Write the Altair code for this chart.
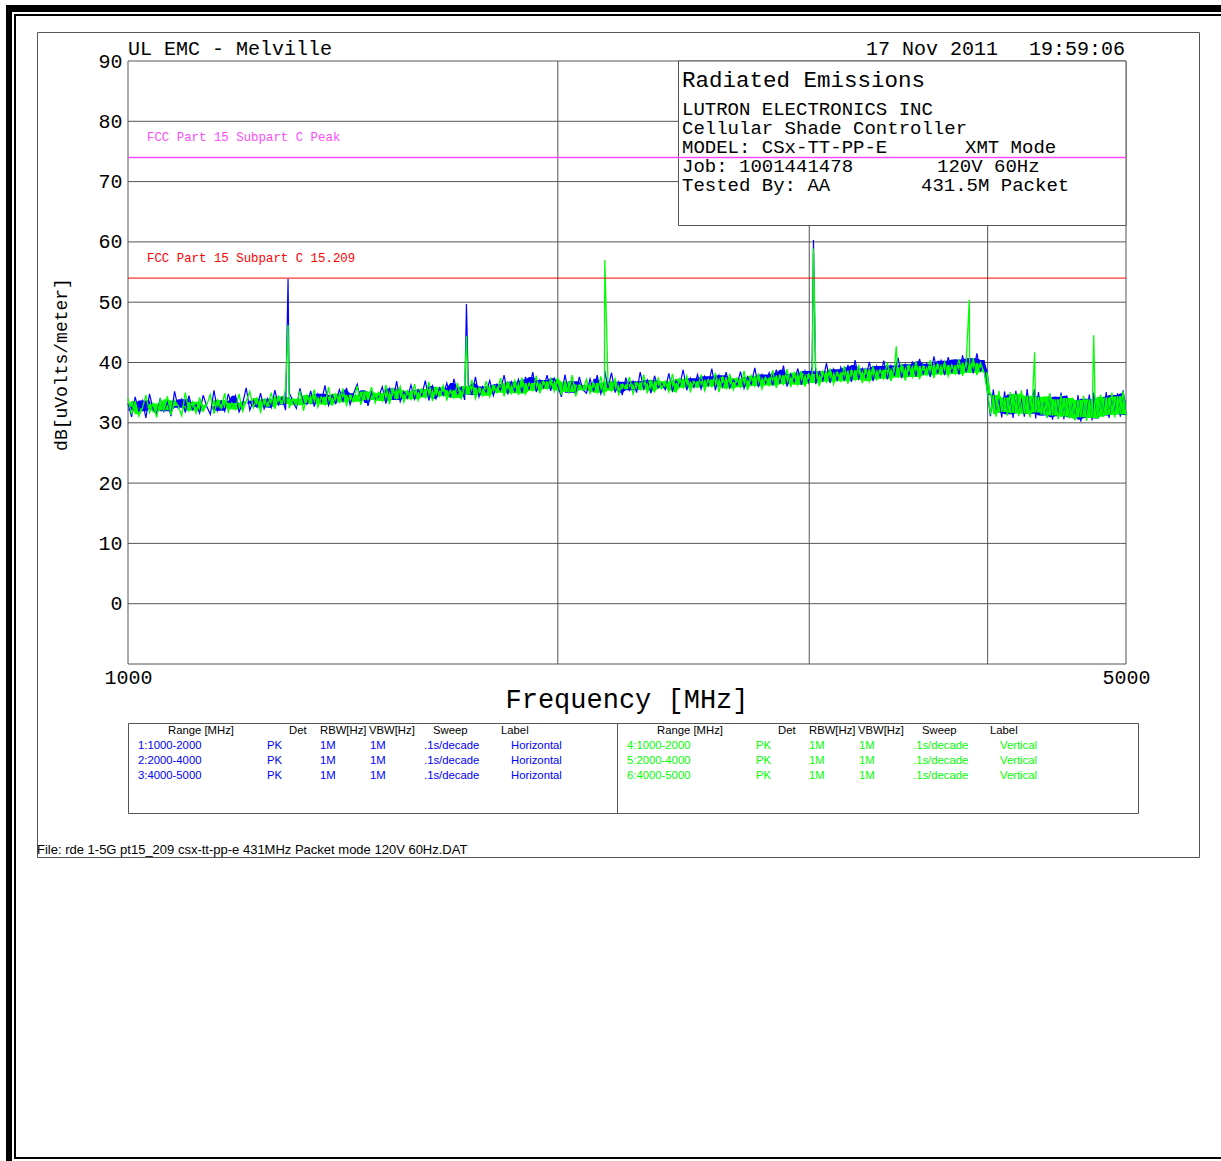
import altair as alt
import numpy as np
import pandas as pd

# ---------------------------------------------------------------- data
# Peak-detector sweeps, dBuV/m, one list per polarisation and sub-range
horiz_1000_2000 = [
    33.2, 31.0, 34.3, 31.9, 33.7, 30.8, 34.8, 32.3, 31.5, 34.1,
    31.9, 33.5, 31.1, 35.2, 32.5, 33.9, 31.7, 34.5, 32.2, 33.0,
    31.6, 34.6, 32.7, 31.4, 35.4, 32.0, 33.6, 31.9, 34.8, 32.9,
    34.5, 31.8, 33.2, 35.8, 32.1, 33.7, 32.6, 34.9, 32.3, 34.0,
    32.5, 35.4, 33.0, 34.2, 32.1, 35.0, 33.6, 32.4, 35.7, 33.3,
    33.1, 35.3, 32.7, 34.8, 33.5, 36.2, 32.9, 34.6, 33.2, 35.5,
    33.6, 35.8, 33.0, 34.9, 36.4, 33.3, 35.4, 32.8, 35.1, 33.9,
    34.3, 36.0, 33.2, 35.7, 33.8, 36.9, 33.5, 35.2, 34.1, 36.3,
    33.9, 35.5, 34.5, 37.0, 33.7, 36.1, 34.0, 35.8, 34.6, 36.6,
    34.2, 37.3, 34.8, 35.9, 33.8, 36.5, 34.6, 37.6, 34.3, 36.0,
    35.1, 37.0, 34.5, 36.4, 35.4, 37.9, 34.7, 36.8, 35.2, 37.2,
    35.0, 37.6, 35.5, 38.4, 35.1, 37.1, 35.8, 37.9, 35.3, 37.4,
]
horiz_2000_4000 = [
    36.1, 34.3, 38.0, 35.0, 36.9, 34.7, 37.6, 35.5, 34.9, 37.3,
    35.2, 37.9, 34.8, 36.6, 35.7, 38.3, 35.0, 36.8, 34.6, 37.5,
    35.4, 36.9, 35.0, 38.4, 35.6, 37.1, 34.9, 37.8, 35.8, 36.5,
    35.5, 38.2, 35.3, 37.0, 36.1, 38.8, 35.4, 37.4, 35.9, 38.0,
    35.6, 37.7, 36.2, 39.0, 35.4, 37.9, 36.0, 38.4, 35.8, 37.1,
    36.3, 38.5, 35.7, 37.6, 36.4, 39.1, 35.9, 38.0, 36.6, 38.3,
    36.2, 38.8, 36.5, 39.5, 36.0, 38.1, 36.8, 39.0, 36.3, 38.6,
    36.7, 39.3, 36.4, 38.5, 37.0, 39.9, 36.6, 38.9, 37.1, 39.2,
    37.0, 39.6, 36.8, 40.4, 37.3, 39.0, 37.5, 40.1, 36.9, 39.4,
    37.6, 40.3, 37.2, 39.5, 37.8, 40.8, 37.4, 39.7, 37.9, 40.2,
    37.7, 40.6, 38.1, 39.8, 37.6, 41.0, 38.2, 40.3, 37.9, 40.9,
    38.3, 40.5, 38.0, 41.2, 38.4, 40.7, 38.2, 41.5, 38.5, 40.4,
]
horiz_4000_5000 = [
    34.6, 31.1, 35.5, 31.7, 34.1, 30.9, 35.2, 31.4, 34.7, 30.8,
    35.3, 31.6, 34.2, 31.0, 35.6, 31.5, 34.4, 30.7, 35.1, 31.2,
    34.0, 30.9, 34.8, 30.5, 34.3, 31.1, 35.0, 30.6, 34.5, 30.9,
    33.7, 30.5, 34.6, 30.2, 34.0, 30.8, 34.7, 30.4, 33.9, 30.7,
    34.3, 31.2, 35.1, 30.8, 34.6, 31.4, 34.9, 31.0, 35.4, 31.3,
]
vert_1000_2000 = [
    34.0, 31.4, 33.6, 31.1, 32.4, 34.6, 31.7, 33.2, 30.9, 33.9,
    32.1, 34.4, 31.3, 33.7, 32.8, 31.2, 35.0, 32.0, 33.5, 31.6,
    34.2, 31.9, 33.0, 34.7, 31.5, 33.8, 32.4, 34.9, 31.8, 33.3,
    32.2, 34.8, 31.9, 33.6, 35.2, 32.5, 34.1, 31.8, 33.9, 32.7,
    35.0, 32.3, 34.4, 33.1, 35.6, 32.4, 34.0, 32.9, 35.3, 32.0,
    34.6, 33.2, 35.5, 32.6, 34.3, 33.0, 35.9, 32.8, 34.8, 33.4,
    35.7, 32.9, 34.6, 33.5, 36.1, 33.0, 35.2, 33.8, 35.9, 33.3,
    35.0, 33.6, 36.3, 33.1, 35.6, 34.0, 36.0, 33.4, 35.3, 33.9,
    36.4, 33.7, 35.6, 34.2, 36.8, 33.6, 35.9, 34.4, 36.2, 33.8,
    35.4, 34.1, 36.6, 33.9, 36.1, 34.7, 37.1, 34.0, 35.8, 34.5,
    36.9, 34.3, 36.2, 35.0, 37.4, 34.4, 36.7, 34.9, 37.0, 34.6,
    37.5, 34.8, 36.6, 35.3, 37.8, 34.9, 36.9, 35.6, 37.3, 35.2,
]
vert_2000_4000 = [
    37.5, 34.6, 36.8, 35.1, 37.9, 34.4, 36.3, 35.4, 37.2, 34.9,
    36.6, 35.0, 37.7, 34.5, 36.9, 35.3, 37.3, 34.7, 36.4, 35.6,
    37.6, 34.8, 36.7, 35.5, 38.0, 34.9, 37.0, 35.2, 37.4, 35.7,
    36.9, 35.1, 38.1, 35.0, 37.3, 35.8, 37.8, 35.2, 36.9, 35.9,
    38.0, 35.3, 37.2, 36.0, 38.3, 35.1, 37.6, 35.7, 38.1, 35.5,
    37.4, 35.9, 38.6, 35.4, 37.8, 36.1, 38.2, 35.6, 37.5, 36.2,
    38.7, 35.8, 37.9, 36.4, 38.9, 35.9, 38.3, 36.3, 38.6, 36.0,
    38.1, 36.6, 39.2, 36.1, 38.5, 36.8, 39.0, 36.4, 38.4, 36.9,
    39.4, 36.5, 38.7, 37.1, 39.6, 36.6, 38.9, 36.9, 39.3, 37.2,
    38.8, 37.3, 40.0, 36.9, 39.2, 37.5, 39.8, 37.0, 39.5, 37.6,
    40.2, 37.2, 39.4, 37.9, 40.4, 37.4, 39.7, 38.0, 40.1, 37.7,
    39.6, 38.1, 40.5, 37.8, 40.0, 38.3, 40.7, 37.9, 39.9, 38.4,
]
vert_4000_5000 = [
    35.0, 31.4, 34.6, 31.0, 35.3, 31.8, 34.2, 31.2, 35.1, 31.6,
    34.8, 31.1, 35.4, 31.5, 34.5, 30.9, 35.0, 31.7, 34.3, 31.3,
    34.4, 30.8, 34.9, 31.2, 33.9, 30.6, 34.6, 31.0, 34.1, 30.7,
    34.2, 30.4, 33.8, 30.9, 34.5, 30.3, 33.9, 30.8, 34.3, 30.6,
    34.7, 31.0, 34.2, 31.3, 35.0, 30.9, 34.4, 31.4, 35.2, 31.1,
]

# Harmonics of the 431.5 MHz carrier and their peak readings
harmonic_mhz = [1294.5, 1726.0, 2157.5, 3020.5, 3452.0, 3883.5, 4315.0, 4746.5]
horiz_peak_db = [53.9, 49.7, 38.6, 60.3, 39.6, 40.6, 35.6, 35.0]
vert_peak_db = [46.2, 44.4, 57.0, 58.9, 42.7, 50.4, 41.7, 44.5]

# Limits
limit_names = ["FCC Part 15 Subpart C Peak", "FCC Part 15 Subpart C 15.209"]
limit_db = [74, 54]
limit_colors = ["#ff4dff", "#ff0000"]

# Axes
y_tick_values = [0, 10, 20, 30, 40, 50, 60, 70, 80, 90]
y_grid_values = [0, 10, 20, 30, 40, 50, 60, 70, 80]
x_tick_values = [1000, 5000]
x_grid_values = [2000, 3000, 4000]

# Header texts
site_text = "UL EMC - Melville"
stamp_date = "17 Nov 2011"
stamp_time = "19:59:06"
info_title = "Radiated Emissions"
info_lines = [
    ("LUTRON ELECTRONICS INC", ""),
    ("Cellular Shade Controller", ""),
    ("MODEL: CSx-TT-PP-E", "XMT Mode"),
    ("Job: 1001441478", "120V 60Hz"),
    ("Tested By: AA", "431.5M Packet"),
]
y_title = "dB[uVolts/meter]"
x_title = "Frequency [MHz]"
file_text = "File: rde 1-5G pt15_209 csx-tt-pp-e 431MHz Packet mode 120V 60Hz.DAT"

# Sweep settings table
table_header = ["Range [MHz]", "Det", "RBW[Hz]", "VBW[Hz]", "Sweep", "Label"]
horiz_ranges = ["1:1000-2000", "2:2000-4000", "3:4000-5000"]
vert_ranges = ["4:1000-2000", "5:2000-4000", "6:4000-5000"]
detector = "PK"
rbw = "1M"
vbw = "1M"
sweep_time = ".1s/decade"

BLUE = "#0000ff"
GREEN = "#00ff00"
GRID = "#555555"
MONO = "Liberation Mono"
SANS = "Liberation Sans"

# ---------------------------------------------------------------- layout
W, H = 998, 603          # plot area
OX, OY = 128, 61         # plot origin on the page
PAGE_W, PAGE_H = 1221, 1161


def px(x):
    return x - OX


def py(y):
    return y - OY


one = pd.DataFrame({"k": [0]})

xscale = alt.Scale(type="log", domain=[1000, 5000], nice=False)
yscale = alt.Scale(domain=[-10, 90], nice=False, zero=False)
xaxis = alt.Axis(values=x_tick_values, format="d", title=None, grid=False, ticks=False,
                 domain=False, labelFont=MONO, labelFontSize=20, labelColor="black",
                 labelPadding=3, labelBaseline="top", labelFlush=False, labelOverlap=False)
yaxis = alt.Axis(values=y_tick_values, format="d", title=None, grid=False, ticks=False,
                 domain=False, labelFont=MONO, labelFontSize=20, labelColor="black",
                 labelPadding=6, labelOverlap=False)


def X(field="f"):
    return alt.X(f"{field}:Q", scale=xscale, axis=xaxis)


def Y(field="db"):
    return alt.Y(f"{field}:Q", scale=yscale, axis=yaxis)


def box(x0, y0, x1, y1, fill=None, stroke=None, sw=1.0):
    props = {}
    if fill is not None:
        props["fill"] = fill
    else:
        props["fill"] = "white"
        props["fillOpacity"] = 0
    if stroke is not None:
        props["stroke"] = stroke
        props["strokeWidth"] = sw
    else:
        props["strokeWidth"] = 0
    return alt.Chart(one).mark_rect(**props).encode(
        x=alt.value(px(x0)), x2=alt.value(px(x1)),
        y=alt.value(py(y0)), y2=alt.value(py(y1)))


def label(s, x, y, size, font=MONO, color="black", align="left",
          baseline="alphabetic", angle=0):
    # non-breaking spaces keep the spacing of the plotter text
    return alt.Chart(one).mark_text(
        text=s.replace(" ", "\u00a0"), font=font, fontSize=size, color=color,
        align=align, baseline=baseline, angle=angle
    ).encode(x=alt.value(px(x)), y=alt.value(py(y)))


def sweep_frame(r1, r2, r3, peak_f, peak_db):
    f = np.concatenate([
        np.geomspace(1000, 2000, len(r1), endpoint=False),
        np.geomspace(2000, 4000, len(r2), endpoint=False),
        np.geomspace(4000, 5000, len(r3)),
    ])
    noise = pd.DataFrame({"f": f, "db": r1 + r2 + r3})
    # dense core of the noise: between the upper troughs and the lower crests
    med = noise["db"].rolling(3, center=True, min_periods=1).median()
    noise["lo"] = med.rolling(2, min_periods=1).min()
    noise["hi"] = med.rolling(2, min_periods=1).max()
    spikes = pd.DataFrame({"f": peak_f, "db": peak_db})
    trace = pd.concat([noise[["f", "db"]], spikes]).sort_values("f").reset_index(drop=True)
    return noise, trace


horiz_band, horiz_df = sweep_frame(horiz_1000_2000, horiz_2000_4000, horiz_4000_5000,
                                   harmonic_mhz, horiz_peak_db)
vert_band, vert_df = sweep_frame(vert_1000_2000, vert_2000_4000, vert_4000_5000,
                                 harmonic_mhz, vert_peak_db)

layers = []

# page frame
layers += [
    box(6, 5, PAGE_W, 12, fill="black"),
    box(6, 5, 12, PAGE_H, fill="black"),
    box(14, 14, PAGE_W, 16, fill="black"),
    box(14, 14, 16, 1159, fill="black"),
    box(14, 1157, PAGE_W, 1159, fill="black"),
    box(37.5, 32.5, 1199.5, 857.5, stroke=GRID, sw=1),
]

# grid
layers.append(alt.Chart(pd.DataFrame({"db": y_grid_values})).mark_rule(
    color=GRID, strokeWidth=1).encode(y=Y()))
layers.append(alt.Chart(pd.DataFrame({"f": x_grid_values})).mark_rule(
    color=GRID, strokeWidth=1).encode(x=X()))
layers.append(box(OX, OY, OX + W, OY + H, stroke=GRID, sw=1))

# info box
layers.append(box(678.5, OY, OX + W, 225.5, fill="white", stroke=GRID, sw=1))
layers.append(label(info_title, 682, 87, 22.5))
col2_x = [None, None, 965, 937, 921]
for i, (left, right) in enumerate(info_lines):
    layers.append(label(left, 682, 115 + 19 * i, 19))
    if right:
        layers.append(label(right, col2_x[i], 115 + 19 * i, 19))

# traces: horizontal (blue) under vertical (green)
layers.append(alt.Chart(horiz_band).mark_area(color=BLUE, opacity=1).encode(
    x=X(), y=Y("lo"), y2=alt.Y2("hi:Q")))
layers.append(alt.Chart(vert_band).mark_area(color=GREEN, opacity=1).encode(
    x=X(), y=Y("lo"), y2=alt.Y2("hi:Q")))
layers.append(alt.Chart(horiz_df).mark_line(color=BLUE, strokeWidth=1.2).encode(x=X(), y=Y()))
layers.append(alt.Chart(vert_df).mark_line(color=GREEN, strokeWidth=1.3).encode(x=X(), y=Y()))

# limits
for name, db, col in zip(limit_names, limit_db, limit_colors):
    ldf = pd.DataFrame({"db": [db], "name": [name]})
    layers.append(alt.Chart(ldf).mark_rule(
        color=col, strokeWidth=1.5 if db == 74 else 1).encode(y=Y()))
    layers.append(alt.Chart(ldf).mark_text(
        font=MONO, fontSize=12.4, color=col, align="left", baseline="alphabetic", dy=-16
    ).encode(x=alt.value(19), y=Y(), text="name:N"))

# header and axis titles
layers.append(label(site_text, OX, 55, 20))
layers.append(label(stamp_date, 866, 55, 20))
layers.append(label(stamp_time, 1125, 55, 20, align="right"))
layers.append(label(y_title, 62, 364.5, 18, align="center", baseline="middle", angle=270))
layers.append(label(x_title, OX + W / 2, 708, 27, align="center"))

# sweep settings table
layers.append(box(128.5, 723.5, 1138.5, 813.5, stroke=GRID, sw=1))
layers.append(box(617, 723.5, 618, 813.5, fill=GRID))
head_x = [168, 289, 320, 369, 433, 501]
cell_x = [138, 267, 320, 370, 424, 511]
half = 489
for side, (ranges, pol, col) in enumerate([(horiz_ranges, "Horizontal", BLUE),
                                           (vert_ranges, "Vertical", GREEN)]):
    off = half * side
    for hx, h in zip(head_x, table_header):
        layers.append(label(h, hx + off, 731, 11.3, font=SANS, baseline="middle"))
    for r, rng in enumerate(ranges):
        cells = [rng, detector, rbw, vbw, sweep_time, pol]
        for cx, c in zip(cell_x, cells):
            layers.append(label(c, cx + off, 746 + 15 * r, 11.3, font=SANS,
                                color=col, baseline="middle"))

layers.append(label(file_text, 37, 854, 13, font=SANS))

chart = alt.layer(*layers).properties(
    width=W, height=H,
    autosize=alt.AutoSizeParams(type="none"),
    padding={"left": OX, "top": OY, "right": PAGE_W - OX - W, "bottom": PAGE_H - OY - H},
    background="white",
).configure_view(stroke=None)

chart.save("out.html", embed_options={"renderer": "svg", "actions": False})
